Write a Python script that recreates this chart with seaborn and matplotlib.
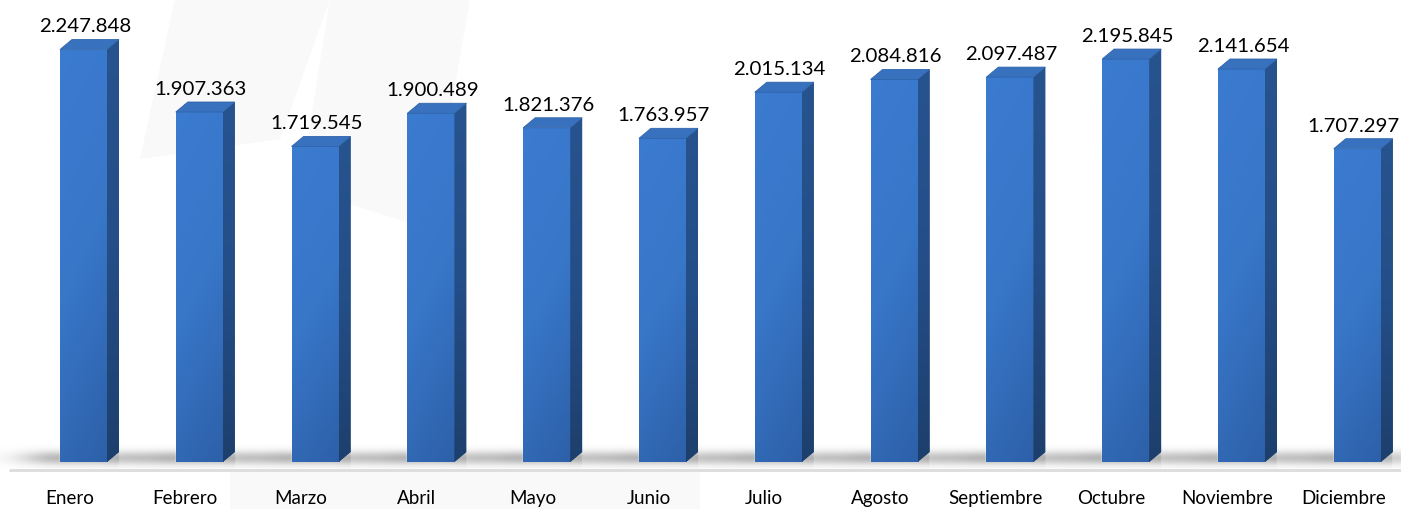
import matplotlib
matplotlib.use("Agg")
import matplotlib.pyplot as plt
import numpy as np
import pandas as pd
import seaborn as sns
from matplotlib.colors import LinearSegmentedColormap, to_rgb
from matplotlib.patches import Polygon
from matplotlib.transforms import ScaledTranslation

months = ["Enero", "Febrero", "Marzo", "Abril", "Mayo", "Junio", "Julio",
          "Agosto", "Septiembre", "Octubre", "Noviembre", "Diciembre"]
values = [2247848, 1907363, 1719545, 1900489, 1821376, 1763957, 2015134,
          2084816, 2097487, 2195845, 2141654, 1707297]


def fmt(v):
    return f"{v:,}".replace(",", ".")


def main() -> None:
    sns.set_style("white")
    plt.rcParams["font.family"] = ["Lato", "DejaVu Sans"]
    df = pd.DataFrame({"Mes": months, "Total": values})

    W, H, dpi = 1401, 510, 100
    fig = plt.figure(figsize=(W / dpi, H / dpi), dpi=dpi, facecolor="white")

    # faint watermark shapes behind the chart (figure pixels -> fractions)
    for pts in ([(175, 0), (330, 0), (280, 140), (140, 160)],
                [(330, 0), (470, 0), (430, 230), (300, 190)],
                [(230, 472), (700, 472), (700, 510), (230, 510)]):
        fig.patches.append(Polygon([(x / W, 1 - y / H) for x, y in pts],
                                   transform=fig.transFigure, facecolor="#f9f9f9",
                                   edgecolor="none", zorder=-5))

    base_px = 463          # baseline of the bars in pixels from the top
    step_px = 115.8        # pixels per category
    ppm = 183.5            # pixels per million
    ax = fig.add_axes([0, (H - base_px) / H, 1, base_px / H])
    ax.set_facecolor("none")

    sns.barplot(data=df, x="Mes", y="Total", color="#3570bd", width=0.406,
                saturation=1, ax=ax, zorder=3)

    xlim = (-83.5 / step_px, (W - 83.5) / step_px)
    ylim = (0, base_px / ppm * 1e6)
    unit_y = 1e6 / ppm     # value units per pixel
    dx = 12 / step_px
    dy = 10 * unit_y

    front_cmap = LinearSegmentedColormap.from_list("front", ["#2d60a8", "#3876c8", "#3b7bd0"])
    side_cmap = LinearSegmentedColormap.from_list("side", ["#1d3f6c", "#244e88", "#27538e"])
    grad = np.linspace(0, 1, 256).reshape(-1, 1)
    grad2 = grad * 0.8 + 0.2 * (1 - np.linspace(0, 1, 32)).reshape(1, -1)

    bars = list(ax.patches)
    for i, p in enumerate(bars):
        x0, w, h = p.get_x(), p.get_width(), p.get_height()
        x1 = x0 + w
        im = ax.imshow(grad2, extent=[x0, x1, 0, h], origin="lower", aspect="auto",
                       cmap=front_cmap, zorder=3.1, interpolation="bilinear")
        im.set_clip_path(p)
        side = Polygon([(x1, 0), (x1 + dx, dy), (x1 + dx, h + dy), (x1, h)],
                       facecolor="#244d86", edgecolor="none", zorder=3)
        ax.add_patch(side)
        ims = ax.imshow(grad, extent=[x1, x1 + dx, 0, h + dy], origin="lower",
                        aspect="auto", cmap=side_cmap, zorder=3.1)
        ims.set_clip_path(side)
        top = Polygon([(x0, h), (x1, h), (x1 + dx, h + dy), (x0 + dx, h + dy)],
                      facecolor="#3872be", edgecolor="#2f63a8", lw=0.6, zorder=3.2)
        ax.add_patch(top)
        off_x = -3 if i == len(bars) - 1 else 1
        ax.annotate(fmt(int(round(h))), (x0 + w / 2, h), xytext=(off_x, 13),
                    textcoords="offset points", ha="center", va="baseline",
                    fontsize=14.7, color="black", zorder=5)

    # soft floor shadow around each bar base
    xs = np.linspace(xlim[0], xlim[1], 2400)
    ys = np.linspace(-7 * unit_y, 18 * unit_y, 60)
    alpha_x = np.zeros_like(xs)
    s = 40 / step_px
    for p in bars:
        x0, x1 = p.get_x(), p.get_x() + p.get_width() + dx
        left = np.where(xs < x0, 0.6 * np.exp(-((x0 - xs) / s) ** 2), 0)
        right = np.where(xs > x1, 0.4 * np.exp(-((xs - x1) / (0.8 * s)) ** 2), 0)
        inside = np.where((xs >= x0) & (xs <= x1), 0.6, 0)
        alpha_x += left + right + inside
    yc, sy = 4 * unit_y, 7 * unit_y
    alpha_y = np.exp(-((ys - yc) / sy) ** 2)
    rgba = np.zeros((len(ys), len(xs), 4))
    rgba[..., :3] = to_rgb("#8a8a8a")
    rgba[..., 3] = np.clip(alpha_y[:, None] * alpha_x[None, :], 0, 1)
    sh = ax.imshow(rgba, extent=[xlim[0], xlim[1], ys[0], ys[-1]], origin="lower",
                   aspect="auto", zorder=2, interpolation="bilinear")
    sh.set_clip_on(False)

    # floor line
    ax.plot([xlim[0] + 10 / step_px, xlim[1]], [-8 * unit_y] * 2, color="#dcdcdc",
            lw=2, clip_on=False, zorder=1.5)

    ax.set_xlim(*xlim)
    ax.set_ylim(*ylim)
    ax.set(xlabel="", ylabel="", yticks=[])
    for sp in ax.spines.values():
        sp.set_visible(False)
    ax.tick_params(axis="x", length=0, pad=19.5, labelsize=13.5, labelcolor="black")
    shift = ScaledTranslation(-14 / dpi, 0, fig.dpi_scale_trans)
    for lbl in ax.get_xticklabels():
        lbl.set_transform(lbl.get_transform() + shift)

    fig.savefig("out.png", dpi=dpi, facecolor="white")


if __name__ == "__main__":
    main()
